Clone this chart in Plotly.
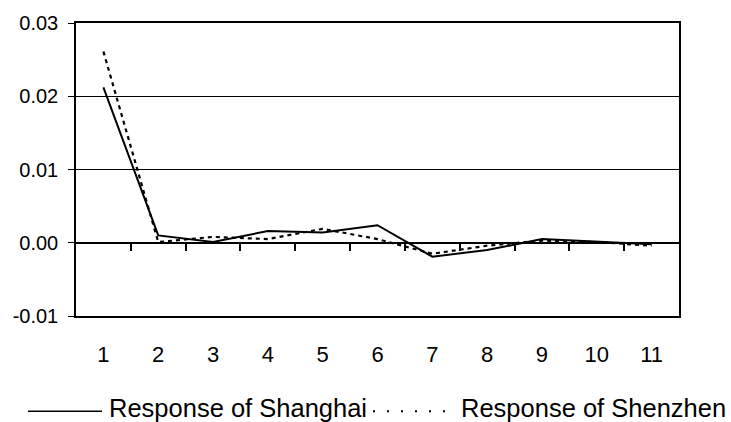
import plotly.graph_objects as go

periods = [1, 2, 3, 4, 5, 6, 7, 8, 9, 10, 11]
shanghai = [0.0212, 0.0010, 0.0001, 0.0016, 0.0014, 0.0024, -0.0019, -0.0010, 0.0005, 0.0002, -0.0002]
shenzhen = [0.0261, 0.0001, 0.0008, 0.0005, 0.0019, 0.0005, -0.0015, -0.0004, 0.0003, 0.0001, -0.0004]
ytick_vals = [-0.01, 0.0, 0.01, 0.02, 0.03]
ytick_text = ["-0.01", "0.00", "0.01", "0.02", "0.03"]
legend_names = ["Response of Shanghai", "Response of Shenzhen"]

W, H = 731, 422
L, R, T, B = 76, 52, 21, 106
FONT = "Liberation Sans, Arial, sans-serif"

fig = go.Figure()
fig.add_trace(go.Scatter(x=periods, y=shanghai, mode="lines",
                         line=dict(color="black", width=2), showlegend=False))
fig.add_trace(go.Scatter(x=periods, y=shenzhen, mode="lines",
                         line=dict(color="black", width=2.2, dash="4px,4px"), showlegend=False))
# invisible trace to activate overlay axis carrying the category ticks at zero
fig.add_trace(go.Scatter(x=periods, y=shanghai, xaxis="x2", mode="lines",
                         line=dict(width=0), opacity=0, hoverinfo="skip", showlegend=False))

xr = [periods[0] - 0.5, periods[-1] + 0.5]
fig.update_layout(
    width=W, height=H,
    margin=dict(l=L, r=R, t=T, b=B),
    paper_bgcolor="white", plot_bgcolor="white",
    font=dict(family=FONT, color="black"),
    xaxis=dict(range=xr, tickvals=periods, ticktext=[str(p) for p in periods],
               showgrid=False, zeroline=False, showline=True, mirror=True,
               linecolor="black", linewidth=1.5, ticks="",
               tickfont=dict(size=22, family=FONT), ticklabelstandoff=18),
    xaxis2=dict(range=xr, overlaying="x", anchor="free", position=0.25,
                tickvals=[p + 0.5 for p in periods[:-1]], showticklabels=False,
                ticks="outside", ticklen=7, tickwidth=1.5, tickcolor="black",
                showgrid=False, zeroline=False, showline=True,
                linecolor="black", linewidth=1.5),
    yaxis=dict(range=[-0.01, 0.03], tickvals=ytick_vals, ticktext=ytick_text,
               showgrid=True, gridcolor="black", gridwidth=1.2,
               zeroline=False, showline=True, mirror=True,
               linecolor="black", linewidth=1.5,
               ticks="outside", ticklen=6, tickwidth=1.2, tickcolor="black",
               tickfont=dict(size=20, family=FONT), ticklabelstandoff=6),
)

pw, ph = W - L - R, H - T - B
def px(x):
    return (x - L) / pw
def py(y):
    return (H - B - y) / ph

ly = 412
fig.add_shape(type="line", xref="paper", yref="paper",
              x0=px(28), x1=px(102), y0=py(ly), y1=py(ly),
              line=dict(color="black", width=1.5))
fig.add_shape(type="line", xref="paper", yref="paper",
              x0=px(373), x1=px(457), y0=py(ly), y1=py(ly),
              line=dict(color="black", width=2, dash="2px,12px"))
fig.add_annotation(xref="paper", yref="paper", x=px(107), y=py(ly - 3),
                   text=legend_names[0], showarrow=False, xanchor="left", yanchor="middle",
                   font=dict(size=25.5, family=FONT, color="black"))
fig.add_annotation(xref="paper", yref="paper", x=px(459), y=py(ly - 3),
                   text=legend_names[1], showarrow=False, xanchor="left", yanchor="middle",
                   font=dict(size=25.5, family=FONT, color="black"))

fig.write_html("out.html")
